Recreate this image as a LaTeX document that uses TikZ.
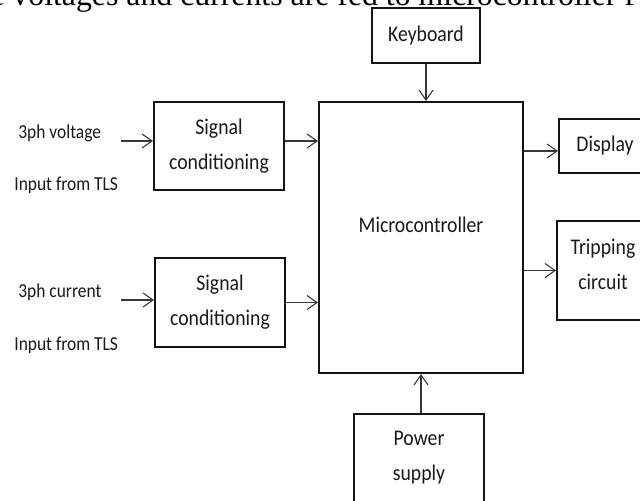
\documentclass[tikz,border=0pt]{standalone}
\usepackage{fontspec}
\usepackage{xcolor}
\usepackage{tikz}
\usetikzlibrary{arrows.meta,positioning}
\setmainfont{Carlito}[FakeStretch=0.88]
\newfontfamily\capfont{Liberation Serif}
\definecolor{blkline}{RGB}{20,20,20}
\definecolor{arrgray}{RGB}{55,55,55}
\definecolor{txtdark}{RGB}{25,25,25}

\tikzset{
    block/.style={draw=blkline, line width=1pt, inner sep=0pt, align=center,
        text=txtdark, font=\fontsize{11.2}{17.5}\selectfont},
    lbl/.style={inner sep=0pt, anchor=west, text=txtdark,
        font=\fontsize{9.9}{11}\selectfont},
    arr/.style={arrgray, line width=0.55pt,
        -{Straight Barb[length=5pt,width=7pt,line width=0.55pt]}}
}

\begin{document}
\begin{tikzpicture}[x=0.5pt,y=-0.5pt]

\useasboundingbox (0,0) rectangle (640,500);
\clip (0,0) rectangle (640,500);

% caption line cut off at the top
\node[inner sep=0pt, anchor=base west, font=\capfont\fontsize{15.9}{18}\selectfont]
    (caption) at (-10,5) {e voltages and currents are fed to microcontroller f};

% =========================
% Blocks
% =========================
\node[block, minimum width=54pt, minimum height=27.5pt] (kbd) at (426,35.5) {Keyboard};
\node[block, minimum width=102pt, minimum height=135.5pt,
    text height=7.8pt, text depth=12.9pt] (micro) at (421,237.5) {Microcontroller};
\node[block, minimum width=65pt, minimum height=44pt] (sig1) at (219,146) {Signal\\conditioning};
\node[block, minimum width=65pt, minimum height=44.5pt] (sig2) at (220,302.5) {Signal\\conditioning};
\node[block, minimum width=46pt, minimum height=27pt] (disp) at (605,146) {Display};
\node[block, minimum width=46pt, minimum height=49.5pt,
    text height=25.3pt, text depth=6.6pt] (trip) at (603,270.5) {Tripping\\circuit};
\node[block, minimum width=65pt, minimum height=44pt] (power) at (419,458) {Power\\supply};

% input labels
\node[lbl] (vlbl) at (18,133) {3ph voltage};
\node[lbl] (vsrc) at (14,185) {Input from TLS};
\node[lbl] (clbl) at (18,292) {3ph current};
\node[lbl] (csrc) at (14,345) {Input from TLS};

% free ends of the input arrows
\coordinate (vin) at (121,141);
\coordinate (cin) at (121,300);

% =========================
% Connectors
% =========================
\draw[arr] (vin) -- (vin -| sig1.west);
\draw[arr] (cin) -- (cin -| sig2.west);
\draw[arr] (sig1.east |- vin) -- (micro.west |- vin);
\draw[arr] (sig2.east) -- (micro.west |- sig2.east);
\draw[arr] (kbd.south) -- (kbd.south |- micro.north);
\draw[arr] (micro.south |- power.north) -- (micro.south);
\draw[arr] ([yshift=-2.5pt]micro.east |- disp.west) -- ([yshift=-2.5pt]disp.west);
\draw[arr] (micro.east |- trip.west) -- (trip.west);

\end{tikzpicture}
\end{document}
